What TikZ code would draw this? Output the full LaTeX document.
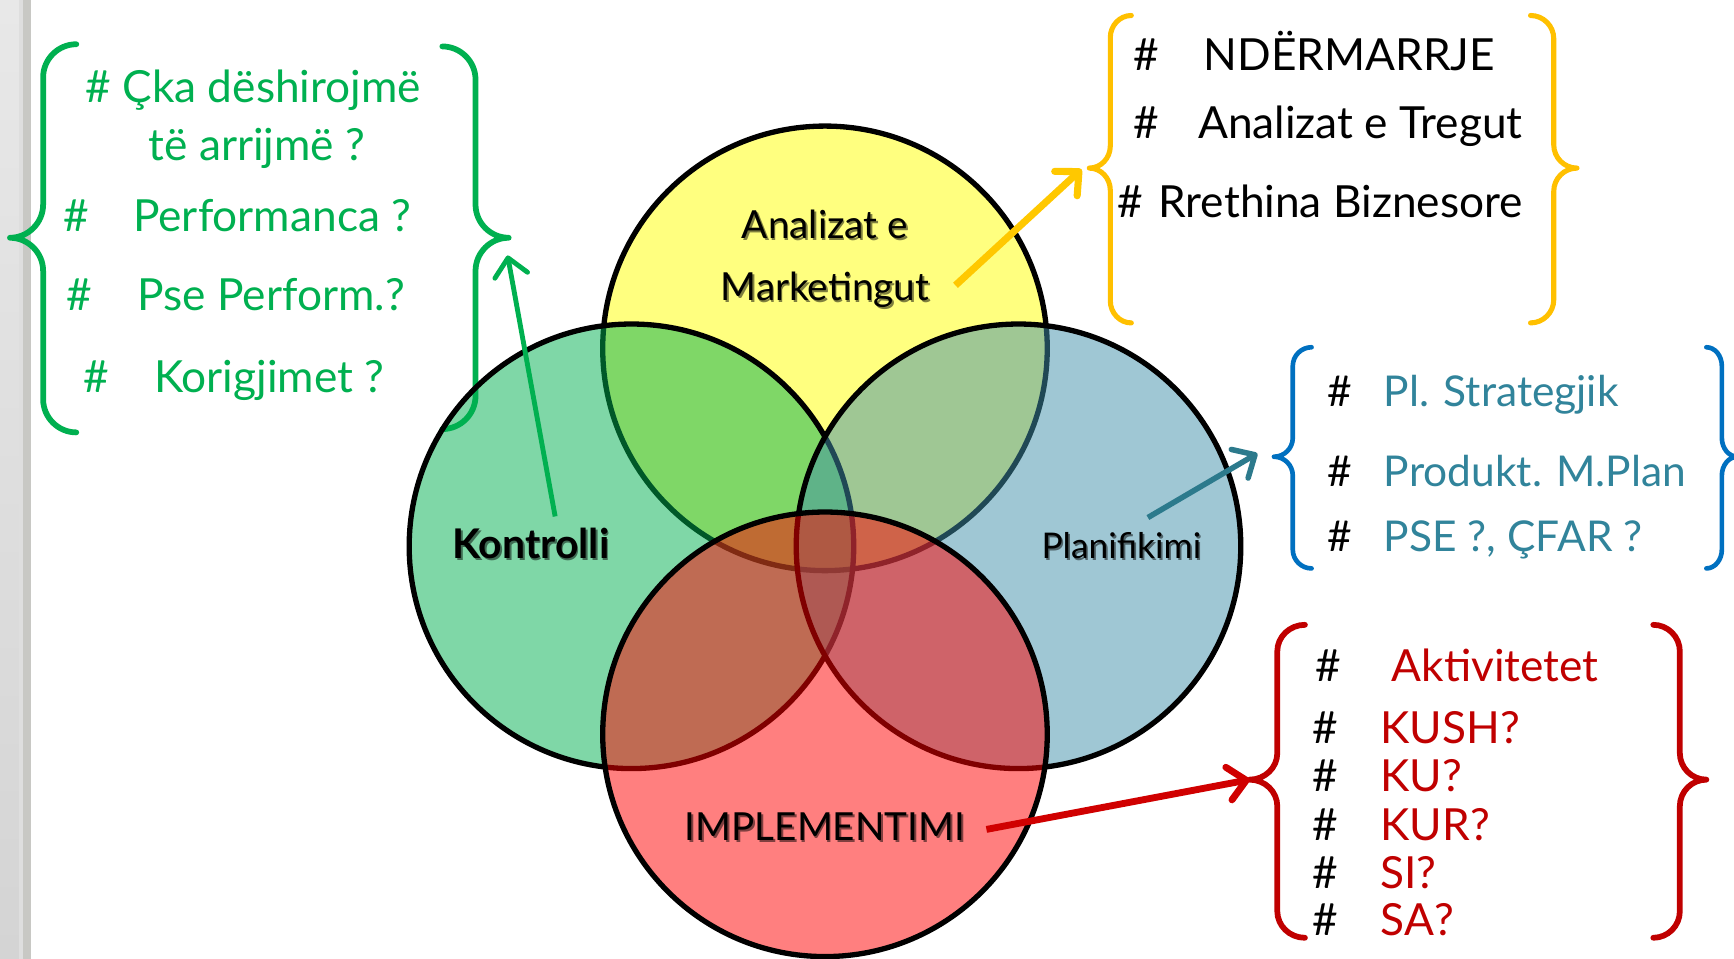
\documentclass[tikz,border=0pt]{standalone}
\usepackage{fontspec}
\setmainfont{Lato}
\usetikzlibrary{arrows.meta}
\definecolor{cG}{RGB}{0,176,80}
\definecolor{cYb}{RGB}{255,192,0}
\definecolor{cYa}{RGB}{255,200,0}
\definecolor{cBb}{RGB}{0,112,192}
\definecolor{cBt}{RGB}{49,132,155}
\definecolor{cBa}{RGB}{44,122,140}
\definecolor{cR}{RGB}{192,0,0}
\definecolor{cRa}{RGB}{208,0,0}
\definecolor{fY}{RGB}{255,255,0}
\definecolor{fG}{RGB}{0,176,80}
\definecolor{fB}{RGB}{64,144,170}
\definecolor{fR}{RGB}{255,0,0}
\definecolor{gs1}{RGB}{232,232,232}
\definecolor{gs2}{RGB}{212,212,212}
\definecolor{gs3}{RGB}{222,222,222}
\definecolor{gs4}{RGB}{200,200,196}
\newcommand{\mybrace}[7]{%
\draw[#1] ({#2+#6},#3) .. controls ({#2+0.45*#6},#3) and (#2,{#3+0.45*#7}) .. (#2,{#3+#7})
 -- (#2,{#4-#7}) .. controls (#2,{#4-0.45*#7}) and ({#2-0.45*#6},#4) .. ({#2-#6},#4)
 .. controls ({#2-0.45*#6},#4) and (#2,{#4+0.45*#7}) .. (#2,{#4+#7})
 -- (#2,{#5-#7}) .. controls (#2,{#5-0.45*#7}) and ({#2+0.45*#6},#5) .. ({#2+#6},#5);}
\tikzset{
 circ/.style={line width=2.4pt, draw=black, fill opacity=0.5},
 brc/.style={line width=2.6pt, line cap=round, line join=round},
 arr/.style={-{Straight Barb[length=8pt,width=15pt,line cap=round,line join=round]}},
 lst/.style={anchor=base west, inner sep=0pt, font=\fontsize{20}{24}\selectfont},
 clab/.style={anchor=base, inner sep=0pt},
 shad/.style={text=black, text opacity=0.5},
}
\begin{document}
\begin{tikzpicture}[x=0.5pt,y=-0.5pt]
\useasboundingbox (0,0) rectangle (1568,867);
\fill[white] (0,0) rectangle (1568,867);
% left grey strip
\fill[top color=gs1, bottom color=gs2] (0,0) rectangle (17,867);
\fill[gs3] (17,0) rectangle (21,867);
\fill[gs4] (21,0) rectangle (28,867);

% braces
\mybrace{brc,cG}{39}{40}{215}{391}{30}{30}
\mybrace{brc,cG}{430}{42}{215}{388}{-30}{30}
\mybrace{brc,cYb,line width=2.3pt}{1004}{14}{152}{292}{19}{20}
\mybrace{brc,cYb,line width=2.3pt}{1405}{14}{152}{292}{-21}{21}
\mybrace{brc,cBb,line width=2.1pt}{1169}{314}{413}{514}{17}{17}
\mybrace{brc,cBb,line width=2.1pt}{1557}{314}{413}{514}{-14}{17}
\mybrace{brc,cR}{1155}{565}{705}{848}{25}{24}
\mybrace{brc,cR}{1519}{565}{705}{848}{-24}{24}

% circles
\draw[circ,fill=fY] (746,315) circle[radius=201];
\draw[circ,fill=fG] (571,494) circle[radius=201];
\draw[circ,fill=fB] (921,494) circle[radius=201];
\draw[circ,fill=fR] (746,664) circle[radius=201];

% circle labels (with shadow)
\node[clab,shad,font=\fontsize{17.5}{20}\selectfont] (lA1s) at (747.5,217.5) {Analizat e};
\node[clab,font=\fontsize{17.5}{20}\selectfont] (lA1) at (746,216) {Analizat e};
\node[clab,shad,font=\fontsize{17.5}{20}\selectfont] (lA2s) at (747.5,273.5) {Marketingut};
\node[clab,font=\fontsize{17.5}{20}\selectfont] (lA2) at (746,272) {Marketingut};
\node[clab,shad,font=\bfseries\fontsize{18.5}{20}\selectfont] (lKs) at (481.5,506.5) {Kontrolli};
\node[clab,font=\bfseries\fontsize{18.5}{20}\selectfont] (lK) at (480,505) {Kontrolli};
\node[clab,shad,font=\fontsize{16}{20}\selectfont] (lPs) at (1015.5,506.5) {Planifikimi};
\node[clab,font=\fontsize{16}{20}\selectfont] (lP) at (1014,505) {Planifikimi};
\node[clab,shad,font=\fontsize{17.5}{20}\selectfont] (lIs) at (747.5,761.5) {IMPLEMENTIMI};
\node[clab,font=\fontsize{17.5}{20}\selectfont] (lI) at (746,760) {IMPLEMENTIMI};

% green list
\node[lst,text=cG] (g1) at (77,93) {\# Çka dëshirojmë};
\node[lst,text=cG] (g2) at (134,145) {të arrijmë ?};
\node[lst,text=cG] (g3h) at (57,209) {\#};
\node[lst,text=cG] (g3) at (120,209) {Performanca ?};
\node[lst,text=cG] (g4h) at (60,281) {\#};
\node[lst,text=cG] (g4) at (124,281) {Pse Perform.?};
\node[lst,text=cG] (g5h) at (75,355) {\#};
\node[lst,text=cG] (g5) at (139,355) {Korigjimet ?};

% yellow list
\node[lst] (y1h) at (1025,64) {\#};
\node[lst] (y1) at (1088,64) {NDËRMARRJE};
\node[lst] (y2h) at (1025,125) {\#};
\node[lst] (y2) at (1083,125) {Analizat e Tregut};
\node[lst] (y3h) at (1010,197) {\#};
\node[lst] (y3) at (1047,197) {Rrethina Biznesore};

% blue list
\tikzset{blst/.style={lst,font=\fontsize{19.2}{23}\selectfont}}
\node[blst] (b1h) at (1200,368) {\#};
\node[blst,text=cBt] (b1) at (1251,368) {Pl. Strategjik};
\node[blst] (b2h) at (1200,440) {\#};
\node[blst,text=cBt] (b2) at (1251,440) {Produkt. M.Plan};
\node[blst] (b3h) at (1200,499) {\#};
\node[blst,text=cBt] (b3) at (1251,499) {PSE ?, ÇFAR ?};

% red list
\node[lst] (r1h) at (1189,616) {\#};
\node[lst,text=cR] (r1) at (1258,616) {Aktivitetet};
\node[lst] (r2h) at (1186,672) {\#};
\node[lst,text=cR] (r2) at (1248,672) {KUSH?};
\node[lst] (r3h) at (1186,716) {\#};
\node[lst,text=cR] (r3) at (1248,716) {KU?};
\node[lst] (r4h) at (1186,760) {\#};
\node[lst,text=cR] (r4) at (1248,760) {KUR?};
\node[lst] (r5h) at (1186,803) {\#};
\node[lst,text=cR] (r5) at (1248,803) {SI?};
\node[lst] (r6h) at (1186,846) {\#};
\node[lst,text=cR] (r6) at (1248,846) {SA?};

% arrows
\coordinate (gS) at (502,467);
\coordinate (gE) at (459,231);
\coordinate (yS) at (864,258);
\coordinate (yE) at (978,153);
\coordinate (bS) at (1038,468);
\coordinate (bE) at (1137,410);
\coordinate (rS) at (892,750);
\coordinate (rE) at (1130,705);
\draw[arr,cG,line width=2.2pt] (gS) -- (gE);
\draw[arr,cYa,line width=3.2pt] (yS) -- (yE);
\draw[arr,cBa,line width=2.5pt] (bS) -- (bE);
\draw[arr,cRa,line width=3.1pt] (rS) -- (rE);
\end{tikzpicture}
\end{document}
